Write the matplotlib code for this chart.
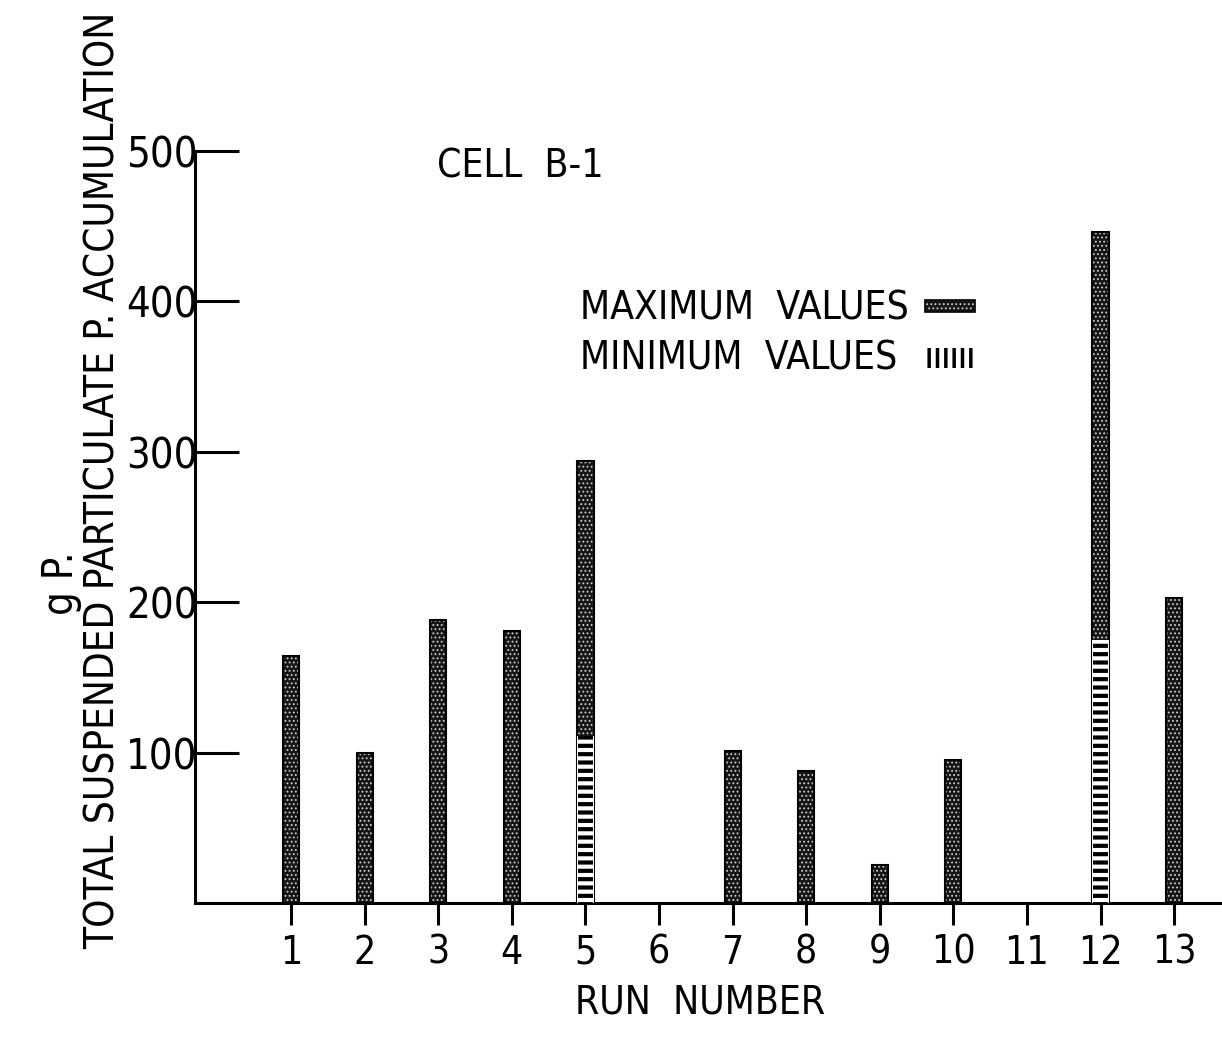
import matplotlib
matplotlib.use("Agg")
import matplotlib.pyplot as plt
from matplotlib.patches import Rectangle

plt.rcParams['font.family'] = ['DejaVu Sans']
plt.rcParams['font.stretch'] = 'condensed'

# Run numbers and accumulation values (g P)
runs = [1, 2, 3, 4, 5, 6, 7, 8, 9, 10, 11, 12, 13]
tick_labels = ["1", "2", "3", "4", "5", "6", "7", "8", "9", "10", "11", "12", "13"]
max_runs = [1, 2, 3, 4, 5, 7, 8, 9, 10, 12, 13]
max_values = [164, 100, 188, 181, 294, 101, 88, 25, 95, 446, 203]
min_runs = [5, 12]
min_values = [111, 175]

fig = plt.figure(figsize=(12.22, 10.42), dpi=100)
ax = fig.add_axes([0.1596, 0.1334, 0.8404, 0.7217])
ax.set_xlim(-0.305, 13.65)
ax.set_ylim(0, 500)

bar_w = 0.22

# maximum values: dark speckled bars
plt.rcParams['hatch.linewidth'] = 0.8
ax.bar(max_runs, max_values, width=bar_w, color='#161616', edgecolor='#cfcfcf',
       hatch='....', linewidth=0, zorder=2)
ax.bar(max_runs, max_values, width=bar_w, fill=False, edgecolor='black',
       linewidth=1.5, zorder=3)

# minimum values: horizontally striped part drawn over the lower section
plt.rcParams['hatch.linewidth'] = 3.0
for r, v in zip(min_runs, min_values):
    ax.bar(r, v, width=bar_w, color='white', linewidth=0, zorder=4)
    ax.bar(r, v, width=bar_w * 0.95, color='none', edgecolor='black',
           hatch='--', linewidth=0, zorder=5)

# axes styling
for s in ['top', 'right']:
    ax.spines[s].set_visible(False)
ax.spines['left'].set_linewidth(2.2)
ax.spines['bottom'].set_linewidth(2.2)

ax.set_yticks([100, 200, 300, 400, 500])
ax.set_yticklabels(["100", "200", "300", "400", "500"], fontsize=30)
ax.tick_params(axis='y', direction='in', length=32, width=2.2, pad=-2)
ax.set_xticks(runs)
ax.set_xticklabels(tick_labels, fontsize=28)
ax.tick_params(axis='x', direction='out', length=16, width=2.2, pad=6)

fig.text(0.573, 0.020, "RUN  NUMBER", fontsize=28, ha='center', va='bottom')
fig.text(0.085, 0.539, "TOTAL SUSPENDED PARTICULATE P. ACCUMULATION",
         fontsize=29, rotation=90, ha='center', va='center')
fig.text(0.05, 0.44, "g P.", fontsize=30, rotation=90, ha='center', va='center')

ax.text(2.98, 490, "CELL  B-1", fontsize=28, ha='left', va='center')

# legend
ax.text(4.93, 395, "MAXIMUM  VALUES", fontsize=28, ha='left', va='center')
ax.text(4.93, 362, "MINIMUM  VALUES", fontsize=28, ha='left', va='center')
plt.rcParams['hatch.linewidth'] = 0.8
ax.add_patch(Rectangle((9.62, 393), 0.68, 8, facecolor='#161616', edgecolor='#cfcfcf',
                       hatch='....', linewidth=0, zorder=3))
ax.add_patch(Rectangle((9.62, 393), 0.68, 8, fill=False, edgecolor='black',
                       linewidth=1.2, zorder=4))
plt.rcParams['hatch.linewidth'] = 2.5
ax.add_patch(Rectangle((9.62, 356), 0.68, 13, facecolor='none', edgecolor='black',
                       hatch='||', linewidth=0, zorder=3))

fig.savefig("out.png", dpi=100, facecolor='white')
